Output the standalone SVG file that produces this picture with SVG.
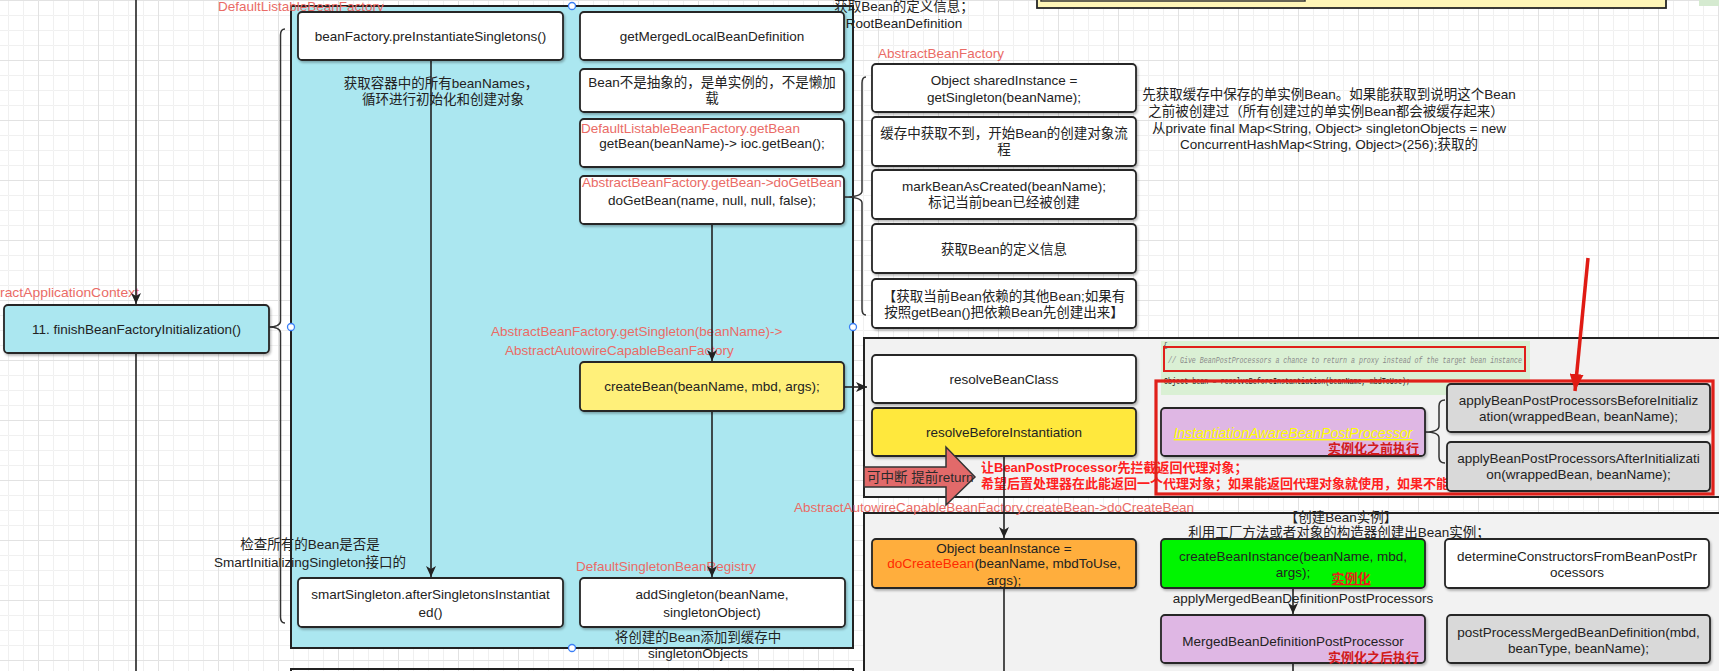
<svg xmlns="http://www.w3.org/2000/svg" width="1719" height="671" viewBox="0 0 1719 671">
<defs>
<pattern id="gmin" x="8" y="0" width="15" height="15" patternUnits="userSpaceOnUse"><path d="M15 0.5H0.5V15" fill="none" stroke="#f0f0f0" stroke-width="1"/></pattern>
<pattern id="gmaj" x="38" y="0" width="60" height="60" patternUnits="userSpaceOnUse"><path d="M60 0.5H0.5V60" fill="none" stroke="#e2e2e2" stroke-width="1"/></pattern>
<marker id="ar" markerUnits="userSpaceOnUse" markerWidth="12" markerHeight="10" refX="11" refY="5" orient="auto"><path d="M0,0 L11,5 L0,10 L3,5 Z" fill="#222"/></marker>
<marker id="arR" markerUnits="userSpaceOnUse" markerWidth="18" markerHeight="14" refX="17" refY="7" orient="auto"><path d="M0,0 L17,7 L0,14 Z" fill="#e01b14"/></marker>
<filter id="sh" x="-5%" y="-10%" width="115%" height="130%"><feDropShadow dx="1.2" dy="1.8" stdDeviation="0.8" flood-color="#000" flood-opacity="0.28"/></filter>
<style>
text{font-family:"Liberation Sans","Noto Sans CJK SC",sans-serif;font-size:13.5px;fill:#222}
.c{text-anchor:middle}
.lbl{fill:#ea6b66}
.box{stroke:#262626;stroke-width:1.8}
.w{fill:#fff}
.cy{fill:#abe7f0}
.gr{fill:#d9d9d9}
.pu{fill:#dfb7e4}
.ln{stroke:#222;stroke-width:1.6;fill:none}
.br{stroke:#333;stroke-width:1.5;fill:none}
.hd{fill:#fff;stroke:#3a7ff6;stroke-width:1.3}
.rb{fill:#ff2020;font-weight:bold;font-size:13px}
.dr{fill:#d21a1a;font-weight:bold;font-size:13px}
</style>
</defs>
<rect x="0" y="0" width="1719" height="671" fill="#fff"/>
<rect x="0" y="0" width="1719" height="671" fill="url(#gmin)"/>
<rect x="0" y="0" width="1719" height="671" fill="url(#gmaj)"/>

<g id="top-note">
<rect x="1037" y="-20" width="629" height="28" fill="#fff6b7" stroke="#262626" stroke-width="1.8"/>
<rect x="1041" y="-20" width="264" height="21" fill="#fff6b7" stroke="#333" stroke-width="1.5"/>
<rect x="1699" y="-2" width="24" height="8" fill="#d5ead0"/>
</g>

<g id="containers">
<rect id="resolve-panel" x="864" y="338" width="880" height="159" fill="#f2f2f2" stroke="#222" stroke-width="2"/>
<rect id="create-panel" x="864" y="513" width="880" height="200" fill="#f2f2f2" stroke="#222" stroke-width="2"/>
<rect id="bottom-panel" x="291" y="669" width="562" height="40" fill="none" stroke="#222" stroke-width="2"/>
<rect id="dlbf" x="291" y="6" width="562" height="642" fill="#abe7f0" stroke="#222" stroke-width="2"/>
</g>

<g id="code-snippet">
<rect x="1161" y="341" width="369" height="54" fill="#daf0d4"/>
<text x="1163" y="347" style="font-size:8px;fill:#555;font-family:'Liberation Mono',monospace">{</text>
<text x="1168" y="363" textLength="354" lengthAdjust="spacingAndGlyphs" style="font-size:9.5px;fill:#8a8a8a;font-style:italic;font-family:'Liberation Mono',monospace">// Give BeanPostProcessors a chance to return a proxy instead of the target bean instance</text>
<rect x="1164" y="347" width="361" height="24" fill="none" stroke="#e0201a" stroke-width="2"/>
<text x="1164" y="384" textLength="246" lengthAdjust="spacingAndGlyphs" style="font-size:9.5px;fill:#111;font-family:'Liberation Mono',monospace">Object bean = resolveBeforeInstantiation(beanName, mbdToUse);</text>
</g>

<g id="labels">
<text x="218" y="10.5" class="lbl">DefaultListableBeanFactory</text>
<text x="0" y="296.5" class="lbl" textLength="139" lengthAdjust="spacingAndGlyphs">ractApplicationContext</text>
<text x="904" y="10.5" class="c">获取Bean的定义信息；</text>
<text x="904" y="27.5" class="c">RootBeanDefinition</text>
<text x="878" y="57.5" class="lbl">AbstractBeanFactory</text>
<text x="441" y="87.5" class="c">获取容器中的所有beanNames，</text>
<text x="443" y="103.5" class="c">循环进行初始化和创建对象</text>
<text class="c"><tspan x="1329" y="98.5">先获取缓存中保存的单实例Bean。如果能获取到说明这个Bean</tspan><tspan x="1326" y="115.5">之前被创建过（所有创建过的单实例Bean都会被缓存起来）</tspan><tspan x="1329" y="132.5">从private final Map&lt;String, Object&gt; singletonObjects = new</tspan><tspan x="1329" y="148.5">ConcurrentHashMap&lt;String, Object&gt;(256);获取的</tspan></text>
<text x="491" y="335.5" class="lbl">AbstractBeanFactory.getSingleton(beanName)-&gt;</text>
<text x="505" y="354.5" class="lbl">AbstractAutowireCapableBeanFactory</text>
<text x="310" y="548.5" class="c">检查所有的Bean是否是</text>
<text x="310" y="566.5" class="c">SmartInitializingSingleton接口的</text>
<text x="576" y="570.5" class="lbl">DefaultSingletonBeanRegistry</text>
<text x="698" y="641.5" class="c">将创建的Bean添加到缓存中</text>
<text x="698" y="657.5" class="c">singletonObjects</text>
<text x="794" y="511.5" class="lbl">AbstractAutowireCapableBeanFactory.createBean-&gt;doCreateBean</text>
<text x="1341" y="521.5" class="c">【创建Bean实例】</text>
<text x="1339" y="536.5" class="c">利用工厂方法或者对象的构造器创建出Bean实例；</text>
<text x="1303" y="602.5" class="c">applyMergedBeanDefinitionPostProcessors</text>
<text x="981" y="471.5" class="rb">让BeanPostProcessor先拦截返回代理对象；</text>
<text x="981" y="488" class="rb">希望后置处理器在此能返回一个代理对象；如果能返回代理对象就使用，如果不能</text>
</g>

<g id="connectors">
<path class="ln" d="M136,0 V304" marker-end="url(#ar)"/>
<path class="ln" d="M136,353 V671"/>
<path class="ln" d="M431,60 V577" marker-end="url(#ar)"/>
<path class="ln" d="M712,224 V361" marker-end="url(#ar)"/>
<path class="ln" d="M712,411 V577" marker-end="url(#ar)"/>
<path class="ln" d="M844,387 H867" marker-end="url(#ar)"/>
<path class="ln" d="M1004,456 V538" marker-end="url(#ar)"/>
<path class="ln" d="M1004,588 V671"/>
<path class="ln" d="M1293,588 V614" marker-end="url(#ar)"/>
<path class="ln" d="M1293,663 V671"/>
<path class="br" d="M285,29 Q280.5,29 280.5,35 L280.5,321 Q280.5,327 268,327 Q280.5,327 280.5,333 L280.5,617 Q280.5,623 285,623"/>
<path class="br" d="M866,77 Q862,77 862,83 L862,191 Q862,197 844,197 Q862,197 862,203 L862,309 Q862,315 866,315"/>
<path class="br" d="M1445,400 Q1439,400 1439,406 L1439,426 Q1439,432 1425,432 Q1439,432 1439,438 L1439,457 Q1439,463 1445,463"/>
</g>

<g id="n-finish"><rect class="box cy" x="4" y="305" width="265" height="48" rx="4" filter="url(#sh)"/><text class="c" x="136.5" y="333.5">11. finishBeanFactoryInitialization()</text></g>
<g id="n-preinst"><rect class="box w" x="298" y="12" width="265" height="48" rx="4" filter="url(#sh)"/><text class="c" x="430.5" y="40.5">beanFactory.preInstantiateSingletons()</text></g>
<g id="n-smart"><rect class="box w" x="298" y="578" width="265" height="49" rx="4" filter="url(#sh)"/><text class="c"><tspan x="430.5" y="598.5">smartSingleton.afterSingletonsInstantiat</tspan><tspan x="430.5" y="616.5">ed()</tspan></text></g>
<g id="n-merged"><rect class="box w" x="580" y="12" width="264" height="48" rx="4" filter="url(#sh)"/><text class="c" x="712" y="40.5">getMergedLocalBeanDefinition</text></g>
<g id="n-notabs"><rect class="box w" x="580" y="69" width="264" height="43" rx="4" filter="url(#sh)"/><text class="c"><tspan x="712" y="87">Bean不是抽象的，是单实例的，不是懒加</tspan><tspan x="712" y="103">载</tspan></text></g>
<g id="n-getbean"><rect class="box w" x="580" y="119" width="264" height="48" rx="4" filter="url(#sh)"/><text x="581" y="132.5" class="lbl">DefaultListableBeanFactory.getBean</text><text class="c" x="712" y="147.5">getBean(beanName)-&gt; ioc.getBean();</text></g>
<g id="n-dogetbean"><rect class="box w" x="580" y="176" width="264" height="48" rx="4" filter="url(#sh)"/><text x="712" y="186.5" class="lbl c">AbstractBeanFactory.getBean-&gt;doGetBean</text><text class="c" x="712" y="204.5">doGetBean(name, null, null, false);</text></g>
<g id="n-createbean"><rect class="box" fill="#fff07a" x="580" y="362" width="264" height="49" rx="4" filter="url(#sh)"/><text class="c" x="712" y="391">createBean(beanName, mbd, args);</text></g>
<g id="n-addsingleton"><rect class="box w" x="580" y="578" width="265" height="49" rx="4" filter="url(#sh)"/><text class="c"><tspan x="712" y="598.5">addSingleton(beanName,</tspan><tspan x="712" y="616.5">singletonObject)</tspan></text></g>

<g id="n-shared"><rect class="box w" x="872" y="64" width="264" height="48" rx="4" filter="url(#sh)"/><text class="c"><tspan x="1004" y="84.5">Object sharedInstance =</tspan><tspan x="1004" y="101.5">getSingleton(beanName);</tspan></text></g>
<g id="n-nocache"><rect class="box w" x="872" y="117" width="264" height="49" rx="4" filter="url(#sh)"/><text class="c"><tspan x="1004" y="137.5">缓存中获取不到，开始Bean的创建对象流</tspan><tspan x="1004" y="153.5">程</tspan></text></g>
<g id="n-mark"><rect class="box w" x="872" y="170" width="264" height="49" rx="4" filter="url(#sh)"/><text class="c"><tspan x="1004" y="191">markBeanAsCreated(beanName);</tspan><tspan x="1004" y="207">标记当前bean已经被创建</tspan></text></g>
<g id="n-def"><rect class="box w" x="872" y="224" width="264" height="49" rx="4" filter="url(#sh)"/><text class="c" x="1004" y="253.5">获取Bean的定义信息</text></g>
<g id="n-depends"><rect class="box w" x="872" y="279" width="264" height="49" rx="4" filter="url(#sh)"/><text class="c"><tspan x="1004" y="300.5">【获取当前Bean依赖的其他Bean;如果有</tspan><tspan x="1004" y="317">按照getBean()把依赖Bean先创建出来】</tspan></text></g>

<g id="n-resolveclass"><rect class="box w" x="872" y="355" width="264" height="48" rx="4" filter="url(#sh)"/><text class="c" x="1004" y="383.5">resolveBeanClass</text></g>
<g id="n-resolvebefore"><rect class="box" fill="#ffe83c" x="872" y="408" width="264" height="48" rx="4" filter="url(#sh)"/><text class="c" x="1004" y="436.5">resolveBeforeInstantiation</text></g>
<g id="n-interrupt"><path d="M864,467 H946 V447 L975,477 L946,505 V487 H864 Z" fill="#e26a6a" stroke="#333" stroke-width="1.5"/><text x="867" y="482" style="fill:#2a2a2a">可中断 提前return</text></g>
<g id="n-iabpp"><rect class="box pu" x="1161" y="408" width="264" height="48" rx="4" filter="url(#sh)"/><text class="c" x="1293" y="438" style="fill:#ffff00;font-style:italic;text-decoration:underline;font-size:14px">InstantiationAwareBeanPostProcessor</text><text x="1419" y="453" class="dr" style="text-anchor:end;text-decoration:underline">实例化之前执行</text></g>
<g id="n-applybefore"><rect class="box gr" x="1447" y="384" width="263" height="48" rx="4" filter="url(#sh)"/><text class="c"><tspan x="1578.5" y="404.5">applyBeanPostProcessorsBeforeInitializ</tspan><tspan x="1578.5" y="420.5">ation(wrappedBean, beanName);</tspan></text></g>
<g id="n-applyafter"><rect class="box gr" x="1447" y="442" width="263" height="49" rx="4" filter="url(#sh)"/><text class="c"><tspan x="1578.5" y="462.5">applyBeanPostProcessorsAfterInitializati</tspan><tspan x="1578.5" y="478.5">on(wrappedBean, beanName);</tspan></text></g>
<g id="n-redframe"><rect x="1156" y="381" width="557" height="113" fill="none" stroke="#e0201a" stroke-width="3.2"/></g>

<g id="n-docreate"><rect class="box" fill="#ffae3d" x="872" y="539" width="264" height="49" rx="4" filter="url(#sh)"/><text class="c"><tspan x="1004" y="552.5">Object beanInstance =</tspan><tspan x="1004" y="568"><tspan style="fill:#ff2a00">doCreateBean</tspan>(beanName, mbdToUse,</tspan><tspan x="1004" y="584.5">args);</tspan></text></g>
<g id="n-createinstance"><rect class="box" fill="#00f500" x="1161" y="539" width="264" height="49" rx="4" filter="url(#sh)"/><text class="c"><tspan x="1293" y="560.5">createBeanInstance(beanName, mbd,</tspan><tspan x="1293" y="576.5">args);</tspan></text><text x="1351" y="583" class="c" style="fill:#e8201a;font-weight:bold;text-decoration:underline;font-size:13px">实例化</text></g>
<g id="n-determine"><rect class="box w" x="1445" y="539" width="264" height="49" rx="4" filter="url(#sh)"/><text class="c"><tspan x="1577" y="560.5">determineConstructorsFromBeanPostPr</tspan><tspan x="1577" y="576.5">ocessors</tspan></text></g>
<g id="n-mbdpp"><rect class="box pu" x="1161" y="615" width="264" height="48" rx="4" filter="url(#sh)"/><text class="c" x="1293" y="645.5">MergedBeanDefinitionPostProcessor</text><text x="1419" y="662" class="dr" style="text-anchor:end">实例化之后执行</text></g>
<g id="n-postprocess"><rect class="box gr" x="1447" y="615" width="263" height="48" rx="4" filter="url(#sh)"/><text class="c"><tspan x="1578.5" y="636.5">postProcessMergedBeanDefinition(mbd,</tspan><tspan x="1578.5" y="652.5">beanType, beanName);</tspan></text></g>

<g id="annotations">
<path d="M1588,258 L1575,391" stroke="#e01b14" stroke-width="3.5" fill="none" marker-end="url(#arR)"/>
<circle class="hd" cx="572" cy="6" r="3.5"/>
<circle class="hd" cx="291" cy="327" r="3.5"/>
<circle class="hd" cx="853" cy="327" r="3.5"/>
<circle class="hd" cx="572" cy="648" r="3.5"/>
</g>
</svg>
